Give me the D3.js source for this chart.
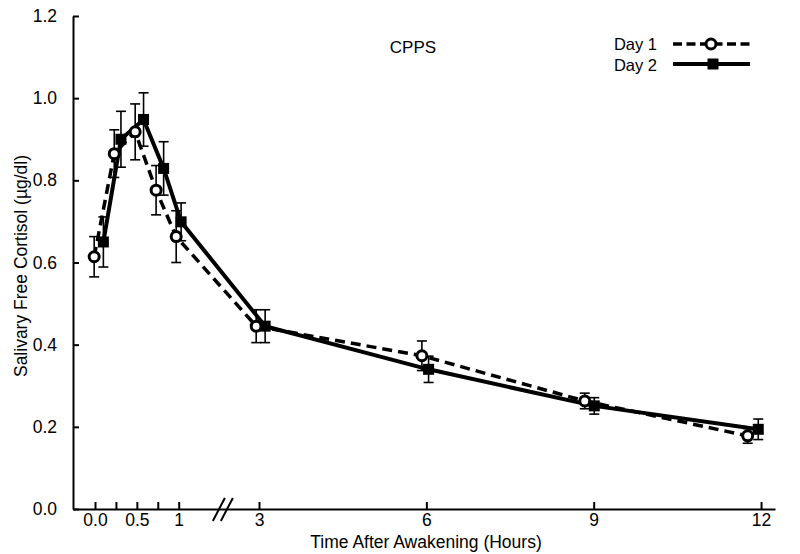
<!DOCTYPE html>
<html>
<head>
<meta charset="utf-8">
<script src="https://cdn.jsdelivr.net/npm/d3@7"></script>
<style>
  body { margin: 0; background: #fff; }
  svg { display: block; font-family: "Liberation Sans", Arial, sans-serif; }
</style>
</head>
<body>
<svg id="chart" width="800" height="554"></svg>
<script>
// ---- data ----
const day1Time  = [-0.01, 0.23, 0.48, 0.73, 0.97, 2.93, 5.92, 8.84, 11.76];
const day1Value = [0.614, 0.865, 0.918, 0.776, 0.663, 0.445, 0.373, 0.263, 0.178];
const day1Err   = [0.049, 0.058, 0.068, 0.060, 0.063, 0.040, 0.036, 0.019, 0.018];

const day2Time  = [0.10, 0.31, 0.58, 0.82, 1.06, 3.11, 6.04, 9.01, 11.95];
const day2Value = [0.650, 0.900, 0.948, 0.829, 0.699, 0.445, 0.340, 0.251, 0.194];
const day2Err   = [0.061, 0.068, 0.065, 0.065, 0.046, 0.040, 0.032, 0.020, 0.025];

const xTicksEarly = [0, 0.25, 0.5, 0.75, 1];
const xTickLabelsEarly = ["0.0", "", "0.5", "", "1"];
const xTicksLate = [3, 6, 9, 12];
const yTicks = [0, 0.2, 0.4, 0.6, 0.8, 1.0, 1.2];

const svg = d3.select("#chart");

const x = d3.scaleLinear()
  .domain([-0.263, 1, 3, 12.25])
  .range([73, 178.7, 259, 775]);
const y = d3.scaleLinear().domain([0, 1.2]).range([509, 16]);

// ---- axes ----
const xAxisG = svg.append("g").attr("transform", "translate(0,509)");
const allXTicks = xTicksEarly.concat(xTicksLate);
const labelMap = new Map();
xTicksEarly.forEach((t, i) => labelMap.set(t, xTickLabelsEarly[i]));
xTicksLate.forEach(t => labelMap.set(t, String(t)));
xAxisG.call(d3.axisBottom(x).tickValues(allXTicks)
  .tickFormat(d => labelMap.get(d))
  .tickSizeInner(-7).tickSizeOuter(0).tickPadding(5));

const yAxisG = svg.append("g").attr("transform", "translate(73,0)");
yAxisG.call(d3.axisLeft(y).tickValues(yTicks)
  .tickFormat(d3.format(".1f"))
  .tickSizeInner(-6).tickSizeOuter(0).tickPadding(16));

svg.selectAll(".domain, .tick line").attr("stroke", "#000").attr("stroke-width", 2);
svg.selectAll(".tick text").attr("font-size", 17.5).attr("fill", "#000")
  .attr("font-family", "'Liberation Sans', Arial, sans-serif");

// break marks
const breakX = (x(1) + x(3)) / 2 + 4;
[-4, 4].forEach(off => {
  svg.append("line")
    .attr("x1", breakX + off - 6).attr("y1", 521)
    .attr("x2", breakX + off + 6).attr("y2", 498)
    .attr("stroke", "#000").attr("stroke-width", 2);
});

// titles
svg.append("text").attr("x", 426).attr("y", 548).attr("text-anchor", "middle")
  .attr("font-size", 17.5).text("Time After Awakening (Hours)");
svg.append("text").attr("transform", "translate(27,266) rotate(-90)")
  .attr("text-anchor", "middle").attr("font-size", 17.5)
  .text("Salivary Free Cortisol (\u00b5g/dl)");
svg.append("text").attr("x", 413).attr("y", 53).attr("text-anchor", "middle")
  .attr("font-size", 17).text("CPPS");

// ---- series ----
const d1 = day1Time.map((t, i) => ({t, v: day1Value[i], e: day1Err[i]}));
const d2 = day2Time.map((t, i) => ({t, v: day2Value[i], e: day2Err[i]}));

const line = d3.line().x(d => x(d.t)).y(d => y(d.v));

function errorBars(data) {
  const g = svg.append("g").attr("stroke", "#000").attr("stroke-width", 1.6);
  data.forEach(d => {
    const cx = x(d.t);
    g.append("line").attr("x1", cx).attr("x2", cx)
      .attr("y1", y(d.v + d.e)).attr("y2", y(d.v - d.e));
    [d.v + d.e, d.v - d.e].forEach(val => {
      g.append("line").attr("x1", cx - 5).attr("x2", cx + 5)
        .attr("y1", y(val)).attr("y2", y(val));
    });
  });
}

errorBars(d1);
errorBars(d2);

svg.append("path").datum(d1).attr("d", line)
  .attr("fill", "none").attr("stroke", "#000").attr("stroke-width", 3.5)
  .attr("stroke-dasharray", "10,6");
svg.append("path").datum(d2).attr("d", line)
  .attr("fill", "none").attr("stroke", "#000").attr("stroke-width", 4);

svg.append("g").selectAll("circle").data(d1).join("circle")
  .attr("cx", d => x(d.t)).attr("cy", d => y(d.v)).attr("r", 5)
  .attr("fill", "#fff").attr("stroke", "#000").attr("stroke-width", 3);
svg.append("g").selectAll("rect").data(d2).join("rect")
  .attr("x", d => x(d.t) - 5.5).attr("y", d => y(d.v) - 5.5)
  .attr("width", 11).attr("height", 11).attr("fill", "#000");

// ---- legend ----
const legend = svg.append("g");
legend.append("text").attr("x", 657).attr("y", 50).attr("text-anchor", "end")
  .attr("font-size", 16.5).text("Day 1");
legend.append("text").attr("x", 657).attr("y", 71).attr("text-anchor", "end")
  .attr("font-size", 16.5).text("Day 2");
legend.append("line").attr("x1", 673).attr("x2", 750).attr("y1", 44).attr("y2", 44)
  .attr("stroke", "#000").attr("stroke-width", 3.5).attr("stroke-dasharray", "9,4.5");
legend.append("circle").attr("cx", 711).attr("cy", 44).attr("r", 5)
  .attr("fill", "#fff").attr("stroke", "#000").attr("stroke-width", 3);
legend.append("line").attr("x1", 673).attr("x2", 750).attr("y1", 64).attr("y2", 64)
  .attr("stroke", "#000").attr("stroke-width", 4);
legend.append("rect").attr("x", 707.5).attr("y", 58.5).attr("width", 11).attr("height", 11)
  .attr("fill", "#000");
</script>
</body>
</html>
